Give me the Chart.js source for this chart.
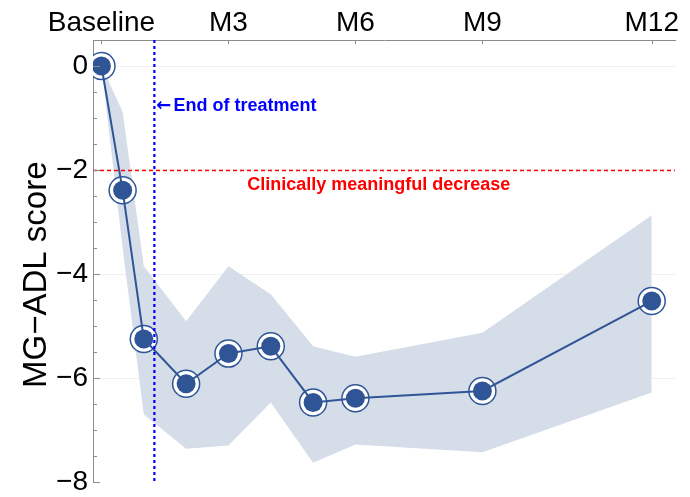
<!DOCTYPE html>
<html>
<head>
<meta charset="utf-8">
<script src="https://cdn.jsdelivr.net/npm/chart.js@4"></script>
<style>
html,body{margin:0;padding:0;background:#fff;}
#wrap{width:690px;height:497px;position:relative;}
</style>
</head>
<body>
<div id="wrap"><canvas id="c" width="690" height="497"></canvas></div>
<script>
// ---- data ----
const weeks = [0, 2, 4, 8, 12, 16, 20, 24, 36, 52];
const meanScore = [0, -2.39, -5.25, -6.11, -5.53, -5.39, -6.47, -6.39, -6.25, -4.52];
const upperCI = [0, -0.88, -3.85, -4.91, -3.85, -4.39, -5.39, -5.59, -5.13, -2.87];
const lowerCI = [0, -3.5, -6.70, -7.36, -7.30, -6.47, -7.63, -7.28, -7.43, -6.28];
const topTickWeeks = [0, 12, 24, 36, 52];
const topTickLabels = ['Baseline', 'M3', 'M6', 'M9', 'M12'];
const endOfTreatmentWeek = 5;
const meaningfulDecrease = -2;
const endArrow = '\u2190';
const endLabel = 'End of treatment';
const decreaseLabel = 'Clinically meaningful decrease';
const yTitle = 'MG\u2212ADL score';

const blue = '#2f5597';
const bandColor = '#d5dde9';
const axisColor = '#8c8c8c';
const FONT = '"Liberation Sans", Arial, Helvetica, sans-serif';

const pts = arr => weeks.map((w, i) => ({x: w, y: arr[i]}));

const annotations = {
  id: 'annotations',
  afterDatasetsDraw(chart) {
    const {ctx, chartArea: a, scales: {x, y}} = chart;
    ctx.save();
    // red dashed horizontal
    const yr = Math.round(y.getPixelForValue(meaningfulDecrease)) + 0.5;
    ctx.strokeStyle = '#ff0000';
    ctx.lineWidth = 1.6;
    ctx.setLineDash([4, 3]);
    ctx.beginPath(); ctx.moveTo(a.left, yr); ctx.lineTo(a.right, yr); ctx.stroke();
    // blue dotted vertical
    const xb = x.getPixelForValue(endOfTreatmentWeek);
    ctx.strokeStyle = '#0000ff';
    ctx.lineWidth = 2.2;
    ctx.setLineDash([3, 3]);
    ctx.beginPath(); ctx.moveTo(xb, a.top); ctx.lineTo(xb, a.bottom); ctx.stroke();
    ctx.setLineDash([]);
    // texts
    const ty = y.getPixelForValue(-0.77);
    ctx.fillStyle = '#0000ff';
    ctx.textAlign = 'left'; ctx.textBaseline = 'middle';
    ctx.font = 'bold 18px "DejaVu Sans", sans-serif';
    ctx.fillText(endArrow, xb + 2, ty);
    const aw = ctx.measureText(endArrow).width;
    ctx.font = 'bold 18px ' + FONT;
    ctx.fillText(endLabel, xb + 2 + aw + 2, ty);
    ctx.fillStyle = '#ff0000';
    ctx.textAlign = 'center';
    ctx.fillText(decreaseLabel, x.getPixelForValue(26.2), y.getPixelForValue(-2.28));
    // inward tick marks
    ctx.strokeStyle = axisColor; ctx.lineWidth = 1;
    for (let v = -8; v <= 0.5001; v += 0.5) {
      const py = Math.round(y.getPixelForValue(v)) + 0.5;
      const len = (Math.abs(v % 2) < 1e-9) ? 7 : 4;
      ctx.beginPath(); ctx.moveTo(a.left, py); ctx.lineTo(a.left + len, py); ctx.stroke();
    }
    topTickWeeks.forEach(w => {
      const px = Math.round(x.getPixelForValue(w)) + 0.5;
      ctx.beginPath(); ctx.moveTo(px, a.top); ctx.lineTo(px, a.top + 4); ctx.stroke();
    });
    ctx.restore();
  }
};

new Chart(document.getElementById('c'), {
  type: 'line',
  data: {
    datasets: [
      {label: 'upper', data: pts(upperCI), borderWidth: 0, pointRadius: 0, fill: '+1', backgroundColor: bandColor, order: 6},
      {label: 'lower', data: pts(lowerCI), borderWidth: 0, pointRadius: 0, fill: false, order: 6},
      {label: 'ring', data: pts(meanScore), showLine: false, pointRadius: 13.5, pointBackgroundColor: '#ffffff', pointBorderColor: blue, pointBorderWidth: 1.5, order: 4},
      {label: 'mean', data: pts(meanScore), borderColor: blue, borderWidth: 2, pointRadius: 0, fill: false, order: 3},
      {label: 'disc', data: pts(meanScore), showLine: false, pointRadius: 9.5, pointBackgroundColor: blue, pointBorderWidth: 0, order: 2}
    ]
  },
  options: {
    responsive: false,
    animation: false,
    devicePixelRatio: 1,
    layout: {padding: {left: 0, right: 7, top: 0, bottom: 15}},
    plugins: {legend: {display: false}, tooltip: {enabled: false}},
    scales: {
      x: {
        type: 'linear', position: 'top', min: -0.8, max: 54.2,
        afterBuildTicks: s => { s.ticks = topTickWeeks.map(v => ({value: v})); },
        afterFit: s => { s.height = 40; s.paddingLeft = 0; s.paddingRight = 0; },
        ticks: {
          callback: v => topTickLabels[topTickWeeks.indexOf(v)],
          font: {family: FONT, size: 28, lineHeight: 1.2}, color: '#000', padding: 0, maxRotation: 0, autoSkip: false
        },
        grid: {display: true, drawOnChartArea: false, drawTicks: false},
        border: {display: true, color: axisColor, width: 1}
      },
      y: {
        type: 'linear', min: -8, max: 0.5,
        afterBuildTicks: s => { const t = []; for (let v = -8; v <= 0.5001; v += 0.5) t.push({value: Math.round(v * 2) / 2}); s.ticks = t; },
        afterFit: s => { s.width = 93; s.paddingTop = 0; s.paddingBottom = 0; },
        ticks: {
          callback: v => (Math.abs(v % 2) < 1e-9) ? (v < 0 ? '\u2212' + Math.abs(v) : String(v)) : '',
          font: {family: FONT, size: 28}, color: '#000', padding: 5, autoSkip: false
        },
        grid: {
          drawTicks: false,
          color: c => (c.tick && Math.abs(c.tick.value % 2) < 1e-9 && c.tick.value > -8) ? '#efefef' : 'rgba(0,0,0,0)'
        },
        border: {display: true, color: axisColor, width: 1},
        title: {display: true, text: yTitle + '\u00a0\u00a0\u00a0', font: {family: FONT, size: 33}, color: '#000', padding: {top: 17, bottom: 0}}
      }
    }
  },
  plugins: [annotations]
});
</script>
</body>
</html>
